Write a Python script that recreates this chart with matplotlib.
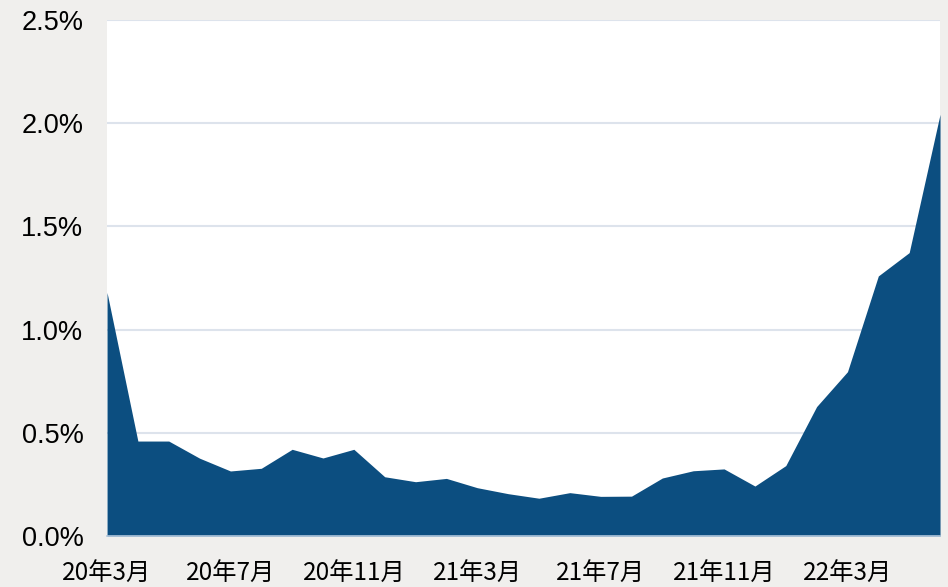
import matplotlib
matplotlib.use('Agg')
import matplotlib.pyplot as plt
from matplotlib.ticker import FuncFormatter

plt.rcParams['font.family'] = ['Liberation Sans', 'Noto Sans CJK SC', 'DejaVu Sans']

# monthly values, 2020-03 .. 2022-06 (%)
months = ['20年3月', '20年4月', '20年5月', '20年6月', '20年7月', '20年8月', '20年9月',
          '20年10月', '20年11月', '20年12月', '21年1月', '21年2月', '21年3月', '21年4月',
          '21年5月', '21年6月', '21年7月', '21年8月', '21年9月', '21年10月', '21年11月',
          '21年12月', '22年1月', '22年2月', '22年3月', '22年4月', '22年5月', '22年6月']
values = [1.18, 0.46, 0.46, 0.377, 0.315, 0.328, 0.42, 0.378, 0.42, 0.287,
          0.263, 0.279, 0.234, 0.205, 0.183, 0.21, 0.192, 0.193, 0.281, 0.316,
          0.325, 0.242, 0.341, 0.627, 0.796, 1.26, 1.373, 2.043]
tick_months = ['20年3月', '20年7月', '20年11月', '21年3月', '21年7月', '21年11月', '22年3月']
y_ticks = [0, 0.5, 1.0, 1.5, 2.0, 2.5]

x = list(range(len(values)))

fig = plt.figure(figsize=(9.48, 5.87), dpi=100, facecolor='#F0EFED')
ax = fig.add_axes([0.1129, 0.0869, 0.8787, 0.879])
ax.set_facecolor('white')

ax.fill_between(x, values, 0, color='#0C4E80', linewidth=0, zorder=2)

ax.set_xlim(0, len(values) - 1)
ax.set_ylim(0, 2.5)
ax.set_yticks(y_ticks)
ax.yaxis.set_major_formatter(FuncFormatter(lambda v, p: '%.1f%%' % v))
ax.set_xticks([months.index(m) for m in tick_months])
ax.set_xticklabels(tick_months, family=['Noto Sans CJK SC'], fontsize=17.5)

ax.grid(axis='y', color='#DDE3EC', linewidth=1.5, zorder=1)
ax.tick_params(axis='y', length=0, pad=17, labelsize=19.5, colors='black')
ax.tick_params(axis='x', length=0, pad=18)

for s in ['top', 'right', 'left']:
    ax.spines[s].set_visible(False)
ax.spines['bottom'].set_color('#AFC6DC')
ax.spines['bottom'].set_linewidth(1.2)
ax.spines['bottom'].set_zorder(3)

plt.savefig('out.png', dpi=100, facecolor=fig.get_facecolor())
plt.close()
